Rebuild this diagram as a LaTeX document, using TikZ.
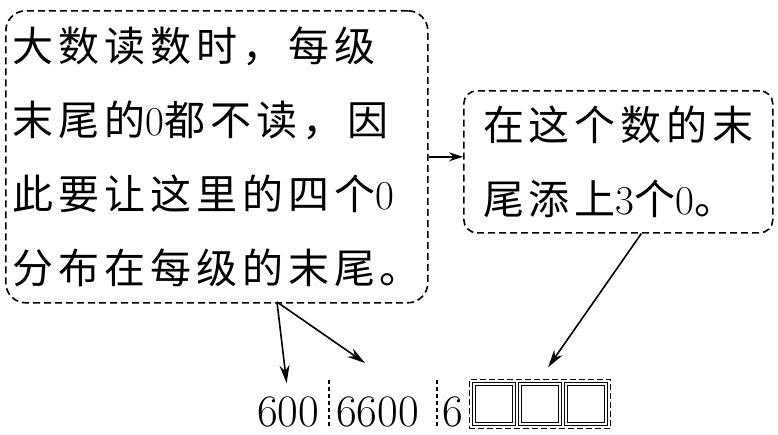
\documentclass[tikz,border=0pt]{standalone}
\usepackage{fontspec}
\newfontfamily\cjk[LetterSpace=12]{Noto Sans CJK SC}
\usetikzlibrary{arrows.meta,positioning,fit}
\tikzstyle{note}=[
	rectangle,
	draw,
	dashed,
	dash pattern=on 7pt off 4pt,
	line width=1.6pt,
	align=left,
	inner sep=0pt,
	font=\cjk\fontsize{41}{74}\selectfont
]
\tikzstyle{digits}=[
	inner sep=0pt,
	font=\fontsize{45}{50}\selectfont
]
\tikzstyle{slotbox}=[
	draw,
	double,
	double distance=2pt,
	line width=1.1pt,
	minimum size=40pt,
	inner sep=0pt
]
\tikzstyle{pointer}=[
	-{Stealth[length=18pt,width=10pt]},
	line width=1.6pt
]
\tikzstyle{divider}=[
	dashed,
	dash pattern=on 4pt off 3pt,
	line width=1.4pt
]

\begin{document}
\begin{tikzpicture}[x=1pt,y=-1pt]
\useasboundingbox (0,0) rectangle (778,434);
\node [note, rounded corners=20pt, minimum width=422pt, minimum height=292pt, anchor=north west] (rule) at (5,10)
	{大数读数时，每级\\末尾的{\rmfamily 0}都不读，因\\此要让这里的四个{\rmfamily 0}\\分布在每级的末尾。};
\node [note, rounded corners=13pt, minimum width=309pt, minimum height=142pt, anchor=north west] (note) at (463,90)
	{在这个数的末\\尾添上{\rmfamily 3}个{\rmfamily 0}。};
\draw [pointer, -{Stealth[length=14pt,width=9pt]}] (rule.east) -- (rule.east -| note.west);
% number row
\node [digits, anchor=base west] (g1) at (257,426) {600};
\node [digits, anchor=base west] (g2) at (336,426) {6600};
\node [digits, anchor=base west] (g3) at (442,426) {6};
\draw [divider] (329,380) -- (329,428);
\draw [divider] (437,380) -- (437,428);
\node [slotbox] (box1) at (494,404) {};
\node [slotbox, right=5pt of box1] (box2) {};
\node [slotbox, right=5pt of box2] (box3) {};
\node [draw, dashed, dash pattern=on 6pt off 3pt, line width=1.4pt, fit=(box1)(box3), inner sep=4pt] (slot) {};
% arrows
\coordinate (split) at (277,302);
\coordinate (t2) at (365,363);
\draw [pointer, shorten >=13pt] (split) -- (g1.north);
\draw [pointer] (split) -- (t2);
\draw [pointer, shorten >=14pt] ([xshift=23pt]note.south) -- (slot.north);
\end{tikzpicture}
\end{document}
